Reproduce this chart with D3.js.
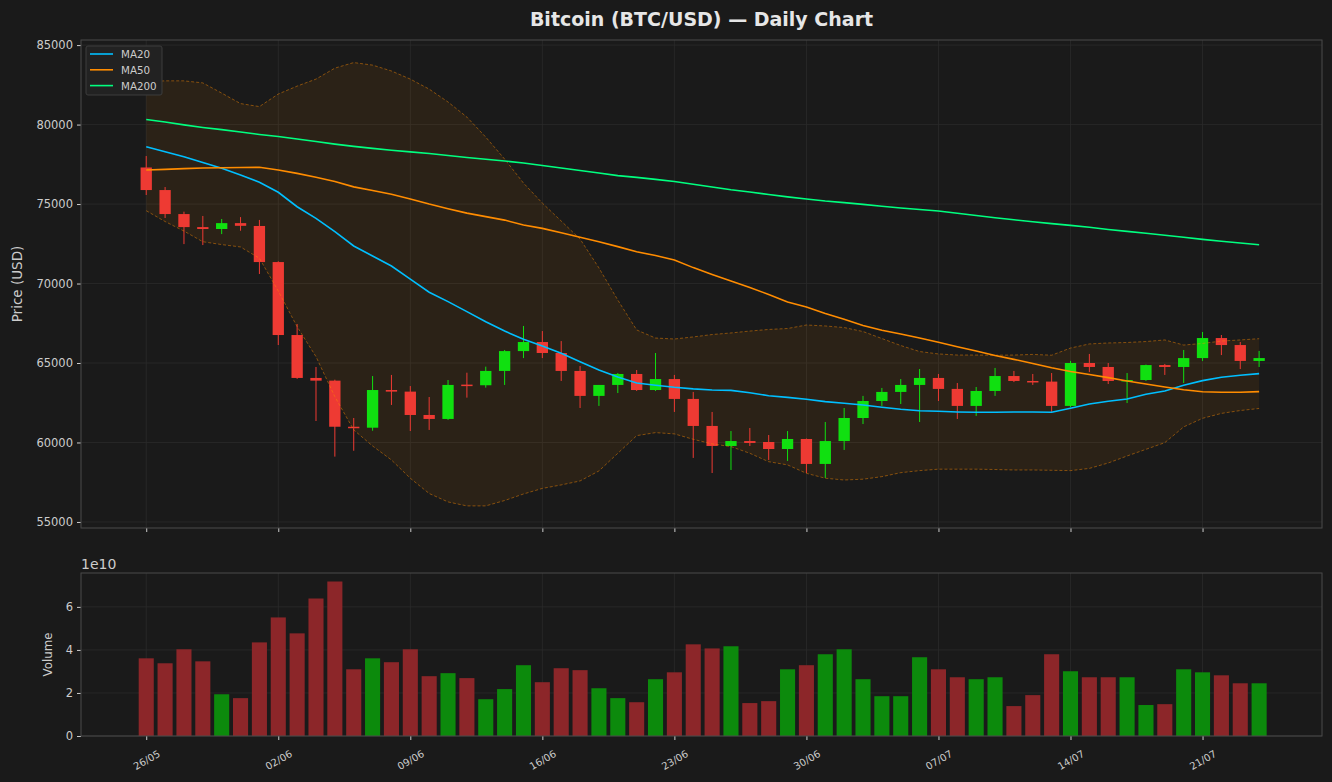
<!DOCTYPE html>
<html>
<head>
<meta charset="utf-8">
<script src="https://cdnjs.cloudflare.com/ajax/libs/d3/7.8.5/d3.min.js"></script>
<style>
    body { margin: 0; background: #1a1a1a; }
    svg { display: block; font-family: "DejaVu Sans", sans-serif; }
</style>
</head>
<body>
<svg id="chart" width="1332" height="782"></svg>
<script>
// daily candles, 26/05 -> 24/07
const startDate = new Date(2024, 4, 26);
const tickEvery = 7;

const opens = [77300, 75880, 74370, 73550, 73430, 73800, 73620, 71350, 66760, 64060,
    63890, 60990, 60930, 63300, 63200, 61730, 61480, 63640, 63600, 64500,
    65750, 66320, 65630, 64500, 62930, 63620, 64310, 63300, 63990, 62740,
    61040, 59780, 60090, 60030, 59590, 60220, 58650, 60090, 61540, 62610,
    63180, 63620, 64060, 63370, 62300, 63240, 64180, 63870, 63830, 62300,
    65000, 64750, 63870, 63930, 64870, 64750, 65310, 66570, 66130, 65130];
const highs = [78020, 76070, 74520, 74250, 74060, 74180, 74000, 71400, 67450, 64750,
    63950, 61540, 64180, 64250, 63550, 62860, 63930, 64390, 64770, 65820,
    67330, 67010, 66380, 64810, 63620, 64370, 64560, 65630, 64250, 63180,
    61920, 60720, 60910, 60470, 60720, 60250, 61290, 62170, 62930, 63430,
    63990, 64620, 64310, 63740, 63490, 64690, 64500, 64310, 64370, 65130,
    65570, 65000, 64370, 64900, 64940, 65820, 66950, 66760, 66320, 65760];
const lows = [75570, 74120, 72480, 72420, 73110, 73320, 70600, 66130, 64000, 61350,
    59110, 59480, 60740, 62360, 60720, 60790, 61420, 62820, 63450, 63620,
    65310, 65310, 63870, 62170, 62300, 63110, 63240, 63240, 61920, 59030,
    58080, 58270, 59780, 58900, 58840, 58080, 57770, 59530, 61160, 62300,
    62420, 61290, 62610, 61480, 61670, 62930, 63800, 63620, 61920, 62230,
    64430, 63680, 62480, 63870, 64250, 63740, 65130, 65500, 64620, 64750];
const closes = [75880, 74370, 73550, 73430, 73800, 73630, 71350, 66760, 64060, 63890,
    60990, 60930, 63300, 63200, 61730, 61480, 63620, 63600, 64500, 65750,
    66320, 65630, 64500, 62930, 63620, 64310, 63300, 63990, 62740, 61040,
    59780, 60090, 59970, 59590, 60220, 58650, 60090, 61540, 62610, 63180,
    63620, 64060, 63370, 62300, 63240, 64180, 63870, 63830, 62300, 65000,
    64750, 63870, 63930, 64870, 64750, 65310, 66570, 66130, 65130, 65310];
const volumes = [3.61, 3.38, 4.03, 3.47, 1.94, 1.76, 4.35, 5.51, 4.77, 6.39,
    7.18, 3.10, 3.61, 3.43, 4.03, 2.78, 2.92, 2.69, 1.71, 2.18,
    3.29, 2.50, 3.15, 3.06, 2.22, 1.76, 1.57, 2.64, 2.96, 4.26,
    4.07, 4.17, 1.53, 1.62, 3.10, 3.29, 3.80, 4.03, 2.64, 1.85,
    1.85, 3.66, 3.10, 2.73, 2.64, 2.73, 1.39, 1.90, 3.80, 3.01,
    2.73, 2.73, 2.73, 1.44, 1.48, 3.10, 2.96, 2.82, 2.45, 2.45].map(v => v * 1e10);

const ma20 = [78600, 78290, 77980, 77620, 77250, 76820, 76370, 75740, 74830, 74100,
    73260, 72360, 71730, 71100, 70280, 69450, 68860, 68230, 67600, 67010,
    66490, 66070, 65610, 65080, 64560, 64120, 63740, 63600, 63470, 63370,
    63300, 63280, 63130, 62940, 62840, 62720, 62570, 62470, 62360, 62220,
    62090, 62000, 61960, 61920, 61900, 61900, 61920, 61920, 61900, 62150,
    62420, 62590, 62740, 63030, 63240, 63600, 63890, 64100, 64230, 64330];
const ma50 = [77140, 77180, 77230, 77270, 77280, 77300, 77310, 77140, 76930, 76690,
    76420, 76080, 75850, 75620, 75320, 75000, 74710, 74430, 74210, 73990,
    73680, 73470, 73200, 72910, 72630, 72320, 72000, 71760, 71480, 71000,
    70570, 70160, 69750, 69310, 68840, 68520, 68110, 67750, 67360, 67060,
    66830, 66570, 66300, 66020, 65760, 65470, 65230, 64970, 64700, 64470,
    64280, 64080, 63870, 63680, 63490, 63320, 63190, 63160, 63160, 63200];
const ma200 = [80320, 80160, 79980, 79820, 79680, 79530, 79380, 79250, 79090, 78930,
    78770, 78630, 78500, 78380, 78280, 78180, 78050, 77930, 77820, 77710,
    77580, 77420, 77270, 77110, 76950, 76790, 76680, 76550, 76420, 76250,
    76070, 75900, 75760, 75600, 75450, 75320, 75190, 75090, 74980, 74860,
    74750, 74660, 74560, 74420, 74280, 74140, 74010, 73890, 73770, 73660,
    73540, 73400, 73280, 73160, 73040, 72910, 72780, 72660, 72550, 72440];
const bbUpper = [82700, 82750, 82750, 82620, 81980, 81320, 81130, 81920, 82420, 82860,
    83550, 83900, 83740, 83370, 82860, 82230, 81420, 80470, 79210, 77830,
    76320, 75060, 73930, 72800, 70980, 68960, 67080, 66570, 66510, 66640,
    66790, 66890, 67010, 67110, 67170, 67390, 67330, 67230, 66980, 66540,
    66100, 65720, 65570, 65500, 65500, 65490, 65500, 65540, 65490, 65940,
    66200, 66260, 66290, 66350, 66450, 66130, 66230, 66380, 66450, 66530];
const bbLower = [74580, 73900, 73300, 72630, 72450, 72300, 71590, 69530, 67280, 65400,
    62880, 60790, 59780, 58900, 57750, 56790, 56260, 56010, 56010, 56350,
    56760, 57110, 57330, 57580, 58210, 59320, 60430, 60620, 60540, 60200,
    59910, 59740, 59320, 58790, 58590, 58060, 57750, 57640, 57690, 57850,
    58100, 58230, 58320, 58320, 58320, 58300, 58270, 58270, 58250, 58230,
    58370, 58710, 59150, 59570, 59990, 60980, 61520, 61830, 62010, 62140];

const yTicks = [55000, 60000, 65000, 70000, 75000, 80000, 85000];
const volTicks = [0, 2e10, 4e10, 6e10];

const seriesMA = [
    {name: "MA20", values: ma20, color: "#00bfff"},
    {name: "MA50", values: ma50, color: "#ff8c00"},
    {name: "MA200", values: ma200, color: "#00ff7f"}
];

const plot = {left: 81, right: 1322};
const pricePanel = {top: 40, bottom: 528};
const volPanel = {top: 573, bottom: 736};

const upColor = "#10e010";
const downColor = "#ee3a33";
const upVolColor = "#0c8a0c";
const downVolColor = "#8c2629";
const gridColor = "#2b2b2b";
const spineColor = "#4a4a4a";
const textColor = "#cccccc";

const dates = d3.timeDay.range(startDate, d3.timeDay.offset(startDate, closes.length));
const candles = dates.map((d, i) => ({
    date: d, open: opens[i], high: highs[i], low: lows[i], close: closes[i], volume: volumes[i]
}));

const svg = d3.select("#chart");

const xScale = d3.scaleTime()
    .domain([d3.timeHour.offset(startDate, -3.45 * 24), d3.timeHour.offset(startDate, 62.35 * 24)])
    .range([plot.left, plot.right]);
const dayWidth = xScale(dates[1]) - xScale(dates[0]);
const tickDates = dates.filter((d, i) => i % tickEvery === 0);
const formatDate = d3.timeFormat("%d/%m");

const yScale = d3.scaleLinear()
    .domain([54620, 85320])
    .range([pricePanel.bottom, pricePanel.top]);

const vScale = d3.scaleLinear()
    .domain([0, d3.max(volumes) * 1.055])
    .range([volPanel.bottom, volPanel.top]);

svg.append("rect")
    .attr("width", 1332).attr("height", 782)
    .style("fill", "#1a1a1a");

// title
svg.append("text")
    .attr("x", (plot.left + plot.right) / 2)
    .attr("y", 26)
    .attr("text-anchor", "middle")
    .style("font-size", "19px")
    .style("font-weight", "bold")
    .style("fill", "#e6e6e6")
    .text("Bitcoin (BTC/USD) \u2014 Daily Chart");

function drawFrame(panel, yS, ticks, tickFormat, showXLabels) {
    const g = svg.append("g");

    // grid
    g.selectAll(".hgrid")
        .data(ticks)
        .join("line")
        .attr("x1", plot.left).attr("x2", plot.right)
        .attr("y1", d => yS(d)).attr("y2", d => yS(d))
        .style("stroke", gridColor).style("stroke-width", 0.8);
    g.selectAll(".vgrid")
        .data(tickDates)
        .join("line")
        .attr("x1", d => xScale(d)).attr("x2", d => xScale(d))
        .attr("y1", panel.top).attr("y2", panel.bottom)
        .style("stroke", gridColor).style("stroke-width", 0.8);

    const yAxis = g.append("g")
        .attr("transform", `translate(${plot.left}, 0)`)
        .call(d3.axisLeft(yS).tickValues(ticks).tickFormat(tickFormat).tickSize(4).tickPadding(4));
    const xAxis = g.append("g")
        .attr("transform", `translate(0, ${panel.bottom})`)
        .call(d3.axisBottom(xScale).tickValues(tickDates).tickFormat(showXLabels ? formatDate : "").tickSize(4));

    [yAxis, xAxis].forEach(ax => {
        ax.select(".domain").remove();
        ax.selectAll(".tick line").style("stroke", textColor);
        ax.selectAll(".tick text")
            .style("fill", textColor)
            .style("font-size", "11.5px")
            .style("font-family", "DejaVu Sans, sans-serif");
    });

    if (showXLabels) {
        xAxis.selectAll(".tick text")
            .style("font-size", "10px")
            .attr("text-anchor", "middle")
            .attr("dy", null)
            .attr("y", null)
            .attr("dominant-baseline", "central")
            .attr("transform", "translate(0, 24) rotate(-30)");
    }

    return g;
}

function drawSpines(panel) {
    svg.append("rect")
        .attr("x", plot.left)
        .attr("y", panel.top)
        .attr("width", plot.right - plot.left)
        .attr("height", panel.bottom - panel.top)
        .style("fill", "none")
        .style("stroke", spineColor)
        .style("stroke-width", 1);
}

// price panel
drawFrame(pricePanel, yScale, yTicks, d3.format("d"), false);

const band = d3.area()
    .x((d, i) => xScale(dates[i]))
    .y0((d, i) => yScale(bbLower[i]))
    .y1(d => yScale(d));

svg.append("path")
    .datum(bbUpper)
    .attr("d", band)
    .style("fill", "#ff8c00")
    .style("fill-opacity", 0.08);

const candleG = svg.append("g");
const bodyWidth = dayWidth * 0.6;

candleG.selectAll(".wick")
    .data(candles)
    .join("line")
    .attr("x1", d => xScale(d.date)).attr("x2", d => xScale(d.date))
    .attr("y1", d => yScale(d.high)).attr("y2", d => yScale(d.low))
    .style("stroke", d => d.close >= d.open ? upColor : downColor)
    .style("stroke-width", 1);

candleG.selectAll(".body")
    .data(candles)
    .join("rect")
    .attr("x", d => xScale(d.date) - bodyWidth / 2)
    .attr("width", bodyWidth)
    .attr("y", d => yScale(Math.max(d.open, d.close)))
    .attr("height", d => Math.max(1.5, Math.abs(yScale(d.open) - yScale(d.close))))
    .style("fill", d => d.close >= d.open ? upColor : downColor);

[bbUpper, bbLower].forEach(values => {
    svg.append("path")
        .datum(values)
        .attr("d", d3.line().x((d, i) => xScale(dates[i])).y(d => yScale(d)))
        .style("fill", "none")
        .style("stroke", "#ff8c00")
        .style("stroke-opacity", 0.45)
        .style("stroke-width", 1)
        .style("stroke-dasharray", "3,2");
});

seriesMA.forEach(s => {
    svg.append("path")
        .datum(s.values)
        .attr("d", d3.line().x((d, i) => xScale(dates[i])).y(d => yScale(d)))
        .style("fill", "none")
        .style("stroke", s.color)
        .style("stroke-width", 1.6);
});

drawSpines(pricePanel);

svg.append("text")
    .attr("transform", `translate(22, ${(pricePanel.top + pricePanel.bottom) / 2}) rotate(-90)`)
    .attr("text-anchor", "middle")
    .style("font-size", "13.5px")
    .style("fill", textColor)
    .text("Price (USD)");

// legend
const legend = svg.append("g").attr("transform", "translate(86, 46)");
legend.append("rect")
    .attr("width", 76).attr("height", 49)
    .attr("rx", 2)
    .style("fill", "#222222")
    .style("stroke", "#3c3c3c");
seriesMA.forEach((s, i) => {
    const row = legend.append("g").attr("transform", `translate(4, ${8 + i * 15.8})`);
    row.append("line")
        .attr("x1", 0).attr("x2", 23)
        .style("stroke", s.color)
        .style("stroke-width", 1.6);
    row.append("text")
        .attr("x", 31)
        .attr("dominant-baseline", "central")
        .style("font-size", "10.3px")
        .style("fill", textColor)
        .text(s.name);
});

// volume panel
drawFrame(volPanel, vScale, volTicks, d => d3.format("d")(d / 1e10), true);

const volWidth = dayWidth * 0.8;
svg.append("g")
    .selectAll("rect")
    .data(candles)
    .join("rect")
    .attr("x", d => xScale(d.date) - volWidth / 2)
    .attr("width", volWidth)
    .attr("y", d => vScale(d.volume))
    .attr("height", d => vScale(0) - vScale(d.volume))
    .style("fill", d => d.close >= d.open ? upVolColor : downVolColor);

drawSpines(volPanel);

svg.append("text")
    .attr("x", plot.left)
    .attr("y", volPanel.top - 4)
    .style("font-size", "14px")
    .style("fill", textColor)
    .text("1e10");

svg.append("text")
    .attr("transform", `translate(52, ${(volPanel.top + volPanel.bottom) / 2}) rotate(-90)`)
    .attr("text-anchor", "middle")
    .style("font-size", "11.8px")
    .style("fill", textColor)
    .text("Volume");
</script>
</body>
</html>
